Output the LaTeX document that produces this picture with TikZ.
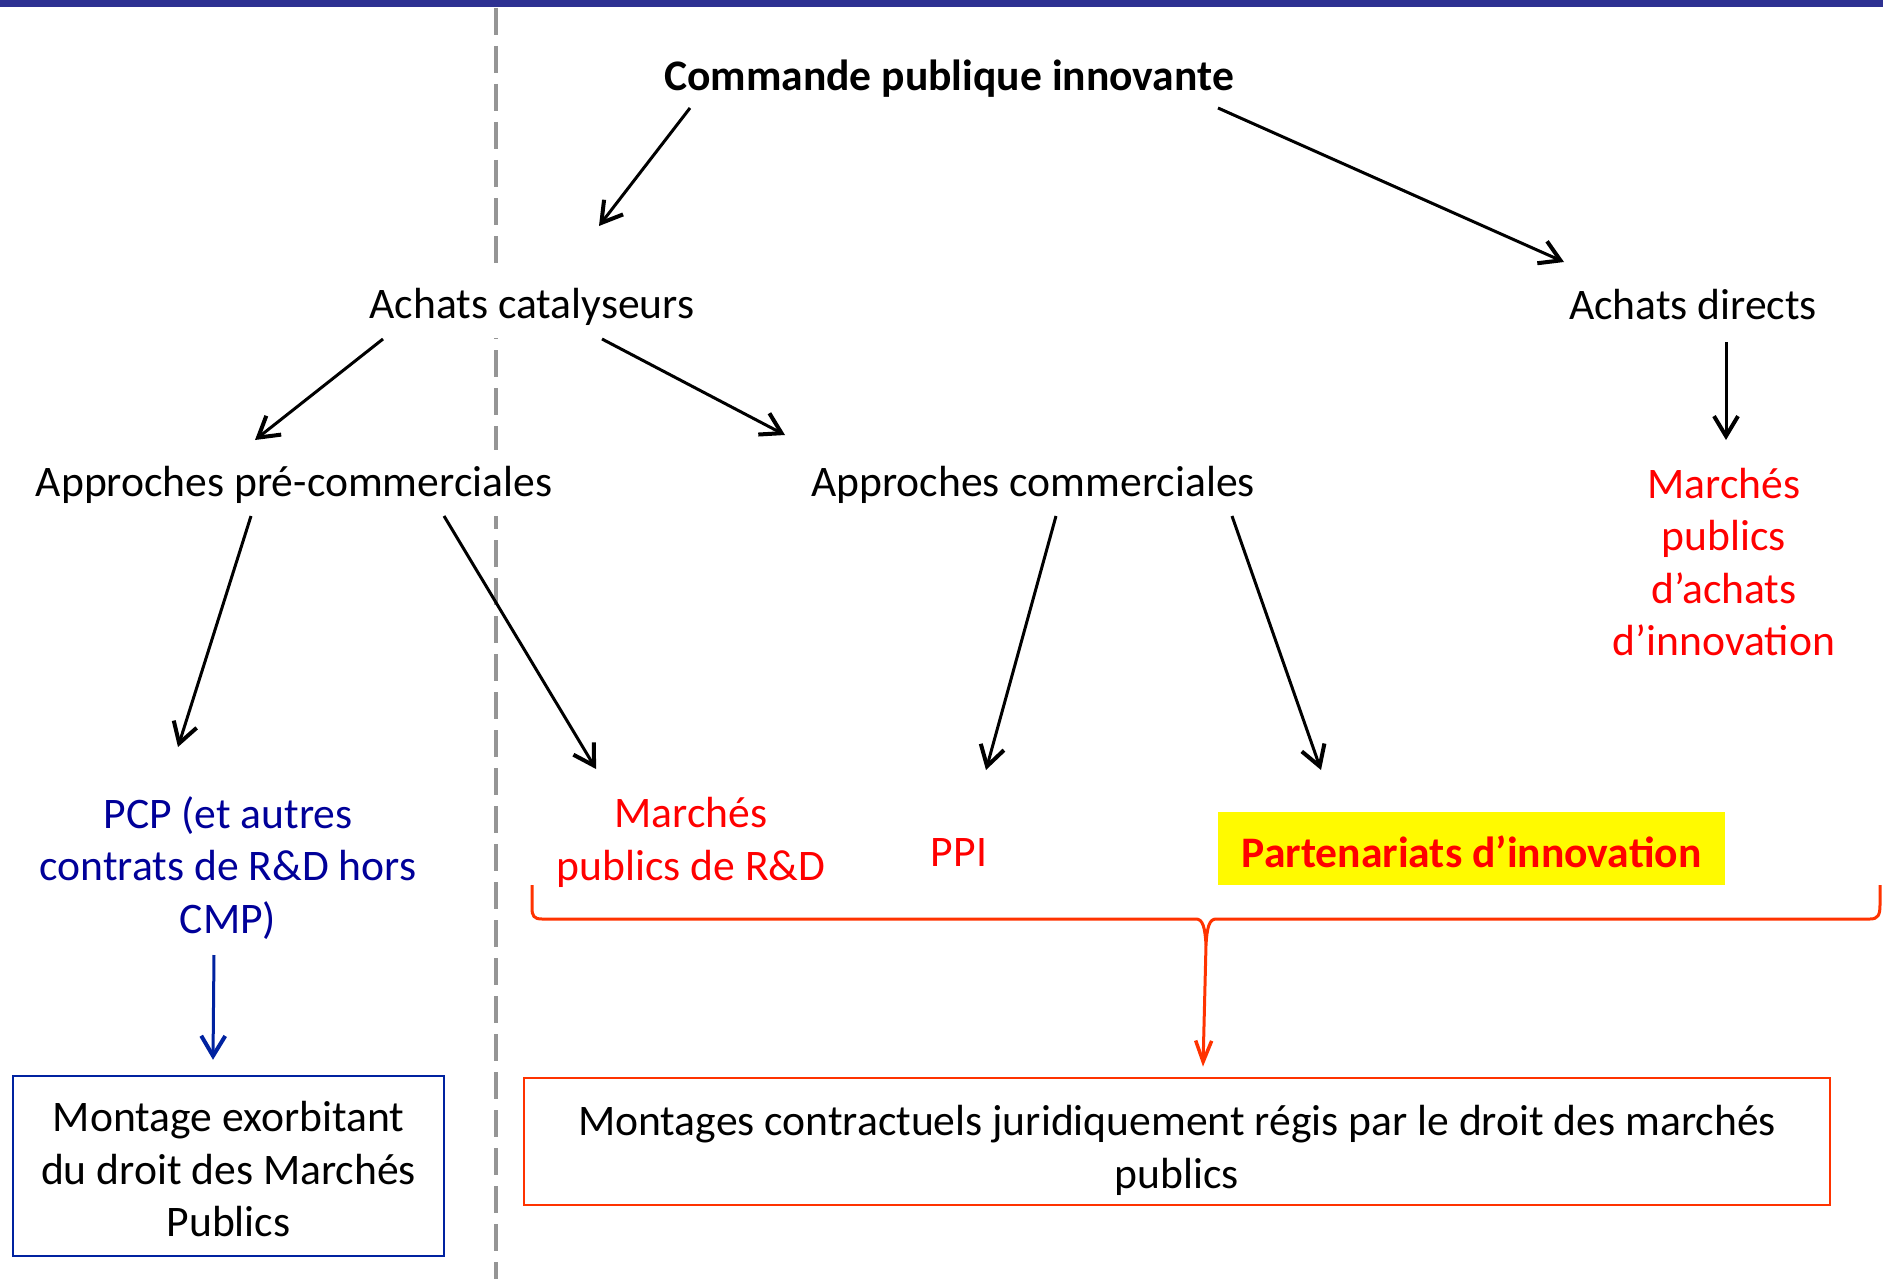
\documentclass[tikz,border=0pt]{standalone}
\usepackage{fontspec}
\setmainfont{Carlito}
\usetikzlibrary{arrows.meta,calc}
\definecolor{barblue}{HTML}{2E3192}
\definecolor{txtblue}{HTML}{000099}
\definecolor{boxblue}{HTML}{0022A0}
\definecolor{brred}{HTML}{FF3300}
\definecolor{txtred}{HTML}{FF0000}
\definecolor{hlyellow}{HTML}{FFFA00}
\definecolor{dashgray}{HTML}{959595}
\begin{document}
\begin{tikzpicture}[x=1pt,y=-1pt,
  every node/.style={font=\fontsize{43.6}{52.5}\selectfont},
  lbl/.style={anchor=base, fill=white, inner sep=10pt, text height=36pt, text depth=10pt},
  ml/.style={anchor=center, align=center, inner sep=0pt},
  arr/.style={line width=3pt, -{Straight Barb[length=20pt,width=24pt,line width=4pt]}},
  barr/.style={boxblue, line width=3pt, -{Straight Barb[length=20pt,width=24pt,line width=4pt]}},
  rarr/.style={brred, line width=3pt, -{Straight Barb[length=21pt,width=16pt,line width=3.5pt]}}]
\useasboundingbox (0,0) rectangle (1883,1279);
\fill[white] (0,0) rectangle (1883,1279);

% dashed separator
\draw[dashgray, line width=3.6pt, dash pattern=on 27pt off 11pt] (496,8) -- (496,1279);

% nodes
\node[lbl, font=\fontsize{43.6}{52.5}\selectfont\bfseries] (cmd) at (949,91) {Commande publique innovante};
\node[lbl] (acat) at (532,318) {Achats catalyseurs};
\node[lbl] (adir) at (1693,319) {Achats directs};
\node[lbl] (apc) at (294,496) {Approches pré-commerciales};
\node[lbl] (ac) at (1033,496) {Approches commerciales};
\node[ml, text=txtred] (mpa) at (1724,562) {Marchés\\publics\\d’achats\\d’innovation};
\node[ml, text=txtblue] (pcp) at (228,868) {PCP (et autres\\contrats de R\&D hors\\CMP)};
\node[ml, text=txtred] (mrd) at (691,842.5) {Marchés\\publics de R\&D};
\node[lbl, fill=none, text=txtred] (ppi) at (959,866) {PPI};
\node[fill=hlyellow, text=txtred, inner sep=0pt, minimum width=507pt, minimum height=73pt,
      text height=40pt, text depth=2pt,
      font=\fontsize{43.6}{52.5}\selectfont\bfseries] (part) at (1471.5,848.5) {Partenariats d’innovation};
\node[draw=boxblue, line width=2.5pt, align=center, inner sep=0pt, minimum width=431pt, minimum height=180pt] (mex) at (228.5,1166) {\rule{0pt}{37pt}Montage exorbitant\\du droit des Marchés\\Publics};
\node[draw=brred, line width=2.8pt, align=center, inner sep=0pt, minimum width=1306pt, minimum height=127pt] (rbox) at (1177,1141.5) {\rule{0pt}{48pt}Montages contractuels juridiquement régis par le droit des marchés\\publics};

% arrows
\draw[arr] ($(cmd.base)+(-259,17)$) -- ($(acat.base)+(67,-92)$);
\draw[arr] ($(cmd.base)+(269,17)$) -- ($(adir.base)+(-129,-57)$);
\draw[arr] ($(acat.base)+(-149,21)$) -- ($(apc.base)+(-39,-56)$);
\draw[arr] ($(acat.base)+(70,21)$) -- ($(ac.base)+(-248,-61)$);
\draw[arr] ($(adir.base)+(33,23)$) -- ($(mpa.center)+(2,-122)$);
\draw[arr] ($(apc.base)+(-43,20)$) -- ($(pcp.center)+(-50,-121)$);
\draw[arr] ($(apc.base)+(150,20)$) -- ($(mrd.center)+(-95,-73.5)$);
\draw[arr] ($(ac.base)+(23,20)$) -- ($(ppi.base)+(27,-96)$);
\draw[arr] ($(ac.base)+(199,20)$) -- ($(part.center)+(-150.5,-78.5)$);
\draw[barr] ($(pcp.center)+(-14,87)$) -- ($(mex.north)+(-15.5,-15)$);

% brace
\draw[brred, line width=3pt] (532,885) -- (532,908) .. controls (532,916) and (534,919) .. (542,919)
  -- (1196,919) .. controls (1203,919) and (1205,928) .. (1206,945)
  .. controls (1207,928) and (1209,919) .. (1216,919)
  -- (1870,919) .. controls (1878,919) and (1880,915) .. (1880,905) -- (1880,885);
\coordinate (btip) at (1206,945);
\draw[rarr] (btip) -- ($(rbox.north)+(26,-10)$);

% top bar
\fill[barblue] (0,0) rectangle (1883,7);
\end{tikzpicture}
\end{document}
